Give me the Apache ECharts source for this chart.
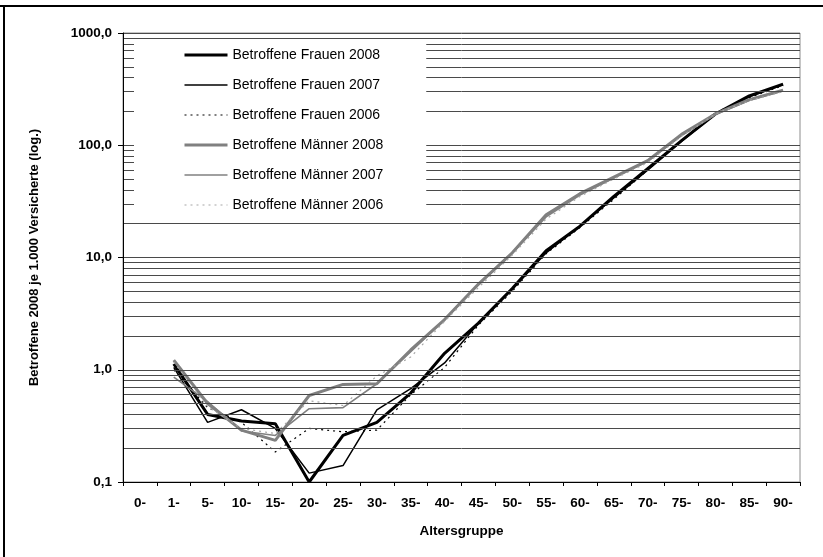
<!DOCTYPE html>
<html>
<head>
<meta charset="utf-8">
<script src="https://cdn.jsdelivr.net/npm/echarts@6/dist/echarts.min.js"></script>
<style>
  html, body { margin: 0; padding: 0; background: #fff; }
  #chart { width: 823px; height: 557px; }
</style>
</head>
<body>
<div id="chart"></div>
<script>
// Age groups (x axis)
const ageGroups = ['0-', '1-', '5-', '10-', '15-', '20-', '25-', '30-', '35-', '40-', '45-',
  '50-', '55-', '60-', '65-', '70-', '75-', '80-', '85-', '90-'];

// Affected persons per 1,000 insured, by age group
const frauen2008 = [null, 1.13, 0.40, 0.35, 0.33, 0.10, 0.26, 0.34, 0.62, 1.40, 2.6, 5.3, 11.5, 19, 35, 62, 110, 190, 275, 350];
const frauen2007 = [null, 1.05, 0.34, 0.44, 0.30, 0.12, 0.14, 0.44, 0.68, 1.15, 2.6, 5.2, 11.0, 19, 34, 60, 108, 190, 270, 345];
const frauen2006 = [null, 1.00, 0.46, 0.34, 0.185, 0.30, 0.28, 0.29, 0.60, 1.05, 2.5, 5.0, 10.8, 18.5, 33, 60, 110, 195, 265, 340];
const maenner2008 = [null, 1.22, 0.50, 0.29, 0.235, 0.59, 0.74, 0.75, 1.50, 2.8, 5.8, 11.0, 24, 37, 52, 73, 125, 190, 255, 310];
const maenner2007 = [null, 0.86, 0.52, 0.285, 0.26, 0.45, 0.46, 0.75, 1.45, 2.8, 5.7, 11.0, 23, 36, 51, 72, 122, 188, 250, 305];
const maenner2006 = [null, 1.17, 0.47, 0.30, 0.27, 0.53, 0.48, 0.88, 1.30, 2.7, 5.4, 10.5, 22, 35, 50, 70, 120, 190, 250, 300];

// Intermediate grid values of the logarithmic scale (2..9 of each decade)
const minorGridValues = [];
[0.1, 1, 10, 100].forEach(function (decade) {
  for (let k = 2; k <= 9; k++) minorGridValues.push(+(decade * k).toPrecision(3));
});

const FONT = '"Liberation Sans", Arial, sans-serif';
const GRID_COLOR = '#4a4a4a';
const BLACK = '#000000';
const GRAY = '#808080';
const LIGHT_GRAY = '#a6a6a6';

function lineSeries(name, data, color, width, type) {
  return {
    name: name,
    type: 'line',
    data: data,
    symbol: 'none',
    connectNulls: false,
    lineStyle: { color: color, width: width, type: type || 'solid' },
    itemStyle: { color: color },
    emphasis: { disabled: true }
  };
}

const series = [
  lineSeries('Betroffene Frauen 2008', frauen2008, BLACK, 3),
  lineSeries('Betroffene Frauen 2007', frauen2007, BLACK, 1.5),
  lineSeries('Betroffene Frauen 2006', frauen2006, BLACK, 1.2, [2, 4]),
  lineSeries('Betroffene Männer 2008', maenner2008, GRAY, 3),
  lineSeries('Betroffene Männer 2007', maenner2007, GRAY, 1.6),
  lineSeries('Betroffene Männer 2006', maenner2006, LIGHT_GRAY, 1.2, [2, 4])
];

// Minor log grid lines, drawn beneath the data lines
series.unshift({
  type: 'line',
  data: [],
  silent: true,
  z: 1,
  markLine: {
    silent: true,
    symbol: 'none',
    label: { show: false },
    lineStyle: { color: GRID_COLOR, width: 1, type: 'solid' },
    emphasis: { disabled: true },
    animation: false,
    data: minorGridValues.map(function (v) { return { yAxis: v }; })
  }
});

const chart = echarts.init(document.getElementById('chart'), null, { renderer: 'canvas' });

chart.setOption({
  animation: false,
  backgroundColor: '#ffffff',
  textStyle: { fontFamily: FONT },
  grid: {
    left: 123, right: 23, top: 33, bottom: 75,
    show: true, borderColor: '#8c8c8c', borderWidth: 1,
    containLabel: false
  },
  legend: {
    orient: 'vertical',
    left: 134,
    top: 41,
    padding: [7, 43, 6, 49],
    backgroundColor: '#ffffff',
    itemWidth: 43,
    itemHeight: 14,
    itemGap: 16,
    selectedMode: false,
    z: 10,
    itemStyle: { opacity: 0, borderWidth: 0 },
    lineStyle: { width: 'inherit', type: 'inherit', color: 'inherit' },
    textStyle: { fontFamily: FONT, fontSize: 14, color: '#000', lineHeight: 14 },
    data: series.slice(1).map(function (s) { return s.name; })
  },
  xAxis: {
    type: 'category',
    data: ageGroups,
    boundaryGap: true,
    name: 'Altersgruppe',
    nameLocation: 'middle',
    nameGap: 42,
    nameTextStyle: { fontFamily: FONT, fontWeight: 'bold', fontSize: 13.5, color: '#000' },
    axisLine: { show: true, lineStyle: { color: '#000', width: 1 } },
    axisTick: { show: true, alignWithLabel: false, inside: false, length: 4, lineStyle: { color: '#000' } },
    axisLabel: { fontFamily: FONT, fontWeight: 'bold', fontSize: 13.5, color: '#000', margin: 14, interval: 0 },
    splitLine: { show: false },
    z: 5
  },
  yAxis: {
    type: 'log',
    logBase: 10,
    min: 0.1,
    max: 1000,
    name: 'Betroffene 2008 je 1.000 Versicherte (log.)',
    nameLocation: 'middle',
    nameGap: 82,
    nameRotate: 90,
    nameTextStyle: { fontFamily: FONT, fontWeight: 'bold', fontSize: 13, color: '#000' },
    axisLine: { show: true, lineStyle: { color: '#000', width: 1 } },
    axisTick: { show: true, inside: false, length: 5, lineStyle: { color: '#000' } },
    axisLabel: {
      fontFamily: FONT, fontWeight: 'bold', fontSize: 13.5, color: '#000', margin: 11,
      formatter: function (v) { return Number(v).toFixed(1).replace('.', ','); }
    },
    splitLine: { show: true, lineStyle: { color: GRID_COLOR, width: 1 } },
    z: 5
  },
  graphic: [
    { type: 'line', shape: { x1: 0, y1: 6, x2: 823, y2: 6 }, style: { stroke: '#000', lineWidth: 2 }, z: 100 },
    { type: 'line', shape: { x1: 4, y1: 5, x2: 4, y2: 557 }, style: { stroke: '#000', lineWidth: 2 }, z: 100 }
  ],
  series: series
});
</script>
</body>
</html>
